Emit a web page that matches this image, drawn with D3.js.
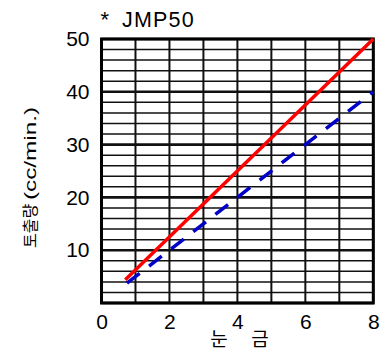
<!DOCTYPE html>
<html>
<head>
<meta charset="utf-8">
<script src="https://cdn.jsdelivr.net/npm/d3@7"></script>
<style>
  body { margin: 0; background: #fff; }
  svg { display: block; }
  text { font-family: "Liberation Sans", Arial, sans-serif; fill: #000; }
  .kr { font-family: "Noto Sans CJK KR", "Liberation Sans", sans-serif; }
</style>
</head>
<body>
<svg id="chart"></svg>
<script>
// chart values
var xTicks = [0, 2, 4, 6, 8];
var yTicks = [10, 20, 30, 40, 50];
var redX = [0.7, 8];
var redY = [4.4, 50];
var blueX = [0.75, 8];
var blueY = [3.75, 40];
var title = "JMP50";
var xLabel = ["눈", "금"];
var yLabelKr = "토출량";
var yLabelEn = "(cc/min.)";

var w = 383, h = 351;
var svg = d3.select("#chart").attr("width", w).attr("height", h);

var x = d3.scaleLinear().domain([0, 8]).range([101.5, 373.3]);
var y = d3.scaleLinear().domain([0, 50]).range([303, 39]);

// grid - horizontal every 2, thicker every 10
var grid = svg.append("g");
grid.selectAll("line.h")
    .data(d3.range(0, 51, 2))
    .enter().append("line")
    .attr("class", "h")
    .attr("x1", x(0)).attr("x2", x(8))
    .attr("y1", function(d) { return y(d); })
    .attr("y2", function(d) { return y(d); })
    .attr("stroke", "#111")
    .attr("stroke-width", function(d) { return d % 10 == 0 ? 2.6 : 1.5; });

grid.selectAll("line.v")
    .data(d3.range(0, 9, 1))
    .enter().append("line")
    .attr("class", "v")
    .attr("y1", y(0)).attr("y2", y(50))
    .attr("x1", function(d) { return x(d); })
    .attr("x2", function(d) { return x(d); })
    .attr("stroke", "#111")
    .attr("stroke-width", 2);

// frame
svg.append("rect")
   .attr("x", x(0)).attr("y", y(50))
   .attr("width", x(8) - x(0)).attr("height", y(0) - y(50))
   .attr("fill", "none")
   .attr("stroke", "#000")
   .attr("stroke-width", 3);

// lines
var line = d3.line().x(function(d) { return x(d[0]); }).y(function(d) { return y(d[1]); });

svg.append("path")
   .datum(d3.zip(blueX, blueY))
   .attr("d", line)
   .attr("fill", "none")
   .attr("stroke", "#0000c8")
   .attr("stroke-width", 3.5)
   .attr("stroke-dasharray", "16,12");

svg.append("path")
   .datum(d3.zip(redX, redY))
   .attr("d", line)
   .attr("fill", "none")
   .attr("stroke", "#ff0000")
   .attr("stroke-width", 3.5);

// axes (labels only)
var xAxis = d3.axisBottom(x).tickValues(xTicks).tickSize(0).tickPadding(0).tickFormat(d3.format("d"));
var gx = svg.append("g").attr("transform", "translate(0," + 329 + ")").call(xAxis);
gx.select(".domain").remove();
gx.selectAll("text").attr("dy", 0).attr("y", 0)
  .style("font-family", "Liberation Sans, Arial, sans-serif").style("font-size", "21px").attr("fill", "#000");

var yAxis = d3.axisLeft(y).tickValues(yTicks).tickSize(0).tickPadding(12).tickFormat(d3.format("d"));
var gy = svg.append("g").attr("transform", "translate(" + x(0) + ",0)").call(yAxis);
gy.select(".domain").remove();
gy.selectAll("text")
  .style("font-family", "Liberation Sans, Arial, sans-serif").style("font-size", "21px").attr("fill", "#000");

// title
svg.append("text").attr("x", 100.5).attr("y", 27).style("font-size", "22px").text("*");
svg.append("text").attr("x", 122).attr("y", 27).style("font-size", "21.5px")
   .style("letter-spacing", "1.2px").text(title);

// x label
svg.append("text").attr("class", "kr").attr("x", 219).attr("y", 346)
   .attr("text-anchor", "middle").style("font-size", "19px").text(xLabel[0]);
svg.append("text").attr("class", "kr").attr("x", 260).attr("y", 346)
   .attr("text-anchor", "middle").style("font-size", "19px").text(xLabel[1]);

// y label: korean part, then stretched latin part
svg.append("text").attr("class", "kr")
   .attr("transform", "translate(36,248) rotate(-90)")
   .style("font-size", "16px")
   .text(yLabelKr);
svg.append("text")
   .attr("transform", "translate(36,200) rotate(-90)")
   .style("font-size", "16px")
   .attr("textLength", 93)
   .attr("lengthAdjust", "spacingAndGlyphs")
   .text(yLabelEn);
</script>
</body>
</html>
